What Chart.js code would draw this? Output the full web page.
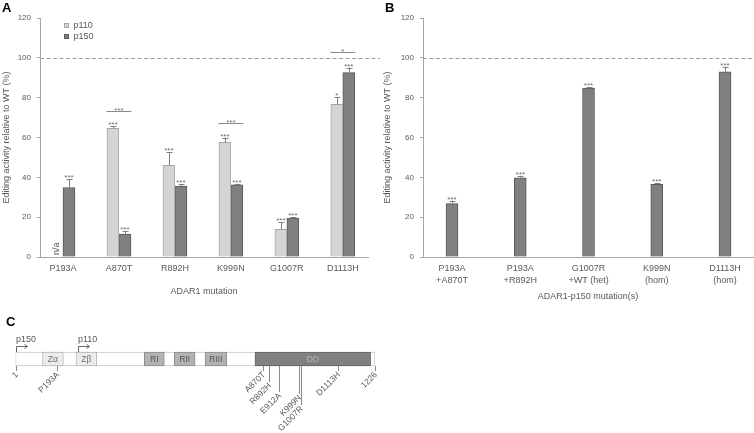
<!DOCTYPE html>
<html>
<head>
<meta charset="utf-8">
<script src="https://cdn.jsdelivr.net/npm/chart.js@4.4.0/dist/chart.umd.min.js"></script>
<style>
  body { margin: 0; background: #fff; }
  #fig { position: relative; width: 754px; height: 433px; overflow: hidden; font-family: 'Liberation Sans', Arial, sans-serif; }
  canvas { position: absolute; }
  .pl { position: absolute; font-weight: bold; font-size: 13px; line-height: 13px; color: #000; }
</style>
</head>
<body>
<div id="fig">
  <canvas id="cA" width="380" height="300" style="left:0;top:0"></canvas>
  <canvas id="cB" width="374" height="305" style="left:380px;top:0"></canvas>
  <canvas id="cC" width="380" height="105" style="left:0;top:328px"></canvas>
  <div class="pl" style="left:2px;top:1px">A</div>
  <div class="pl" style="left:385px;top:1px">B</div>
  <div class="pl" style="left:6px;top:315px">C</div>
</div>
<script>
// ---- panel A: p110 / p150 single mutants
const catsA = ['P193A', 'A870T', 'R892H', 'K999N', 'G1007R', 'D1113H'];
const p110 = [null, 64.6, 46, 57.6, 13.9, 76.7];
const p110Err = [0, 1, 6.6, 2.4, 3.5, 3.7];
const p110Sig = ['', '***', '***', '***', '***', '*'];
const p150 = [34.8, 11.5, 35.6, 36.2, 19.6, 92.6];
const p150Err = [4.2, 1.7, 1.1, 0.6, 0.4, 2.5];
const p150Sig = ['***', '***', '***', '***', '***', '***'];
// p110 vs p150 comparisons
const cmpCats = [1, 3, 5];
const cmpLevel = [73.4, 67.5, 103];
const cmpSig = ['***', '***', '*'];

// ---- panel B: p150 combinations
const catsB = [['P193A', '+A870T'], ['P193A', '+R892H'], ['G1007R', '+WT (het)'], ['K999N', '(hom)'], ['D1113H', '(hom)']];
const valsB = [26.8, 39.8, 84.8, 36.5, 93];
const errB = [1.5, 1, 0.4, 0.7, 2.5];
const sigB = ['***', '***', '***', '***', '***'];

// ---- panel C: ADAR1 domain map
const protLen = 1226;
const domainNames = ['Z\u03b1', 'Z\u03b2', 'RI', 'RII', 'RIII', 'DD'];
const domainStart = [93, 207, 440, 542, 647, 817];
const domainEnd = [164, 278, 508, 613, 721, 1211];
const domainKind = ['z', 'z', 'r', 'r', 'r', 'dd'];
const mutNames = ['P193A', 'A870T', 'R892H', 'E912A', 'K999N', 'G1007R', 'D1113H'];
const mutPos = [143, 845, 866, 900, 968, 974, 1099];
const isoNames = ['p150', 'p110'];
const isoStart = [1, 215];

const FONT = "'Liberation Sans', Arial, sans-serif";
const TXT = '#595959';
const AXIS = '#a6a6a6';
const LIGHT = '#d4d4d4', LIGHT_B = '#a6a6a6';
const DARK = '#808080', DARK_B = '#595959';
const mutDrop = [5, 5, 16, 26, 28, 39, 5];
const yTitle = 'Editing activity relative to WT (%)';

Chart.defaults.font.family = FONT;
Chart.defaults.color = TXT;

const barExtras = {
  id: 'barExtras',
  afterDatasetsDraw(chart, args, opts) {
    const { ctx, chartArea, scales: { x, y } } = chart;
    ctx.save();
    // 100% WT reference
    const yr = Math.round(y.getPixelForValue(100)) + 0.5;
    ctx.strokeStyle = '#9a9a9a';
    ctx.lineWidth = 1;
    ctx.setLineDash([4, 2.5]);
    ctx.beginPath();
    ctx.moveTo(chartArea.left, yr);
    ctx.lineTo(chart.width, yr);
    ctx.stroke();
    ctx.setLineDash([]);

    ctx.font = '8px ' + FONT;
    ctx.textAlign = 'center';
    ctx.textBaseline = 'alphabetic';
    chart.data.datasets.forEach((ds, di) => {
      const meta = chart.getDatasetMeta(di);
      meta.data.forEach((bar, i) => {
        const v = opts.values[di][i];
        if (v == null) return;
        const top = y.getPixelForValue(v + opts.errors[di][i]);
        const bx = Math.round(bar.x) + 0.5;
        ctx.strokeStyle = '#7f7f7f';
        ctx.beginPath();
        ctx.moveTo(bx, bar.y);
        ctx.lineTo(bx, top);
        ctx.moveTo(bx - 3, Math.round(top) + 0.5);
        ctx.lineTo(bx + 3, Math.round(top) + 0.5);
        ctx.stroke();
        ctx.fillStyle = '#6e6e6e';
        ctx.fillText(opts.stars[di][i], bar.x, top + 1);
      });
    });

    (opts.brackets || []).forEach(b => {
      const cx = x.getPixelForValue(b.cat);
      const by = Math.round(y.getPixelForValue(b.level)) + 0.5;
      ctx.strokeStyle = '#8a8a8a';
      ctx.beginPath();
      ctx.moveTo(cx - 12.5, by);
      ctx.lineTo(cx + 12.5, by);
      ctx.stroke();
      ctx.fillStyle = '#6e6e6e';
      ctx.fillText(b.text, cx, by + 1);
    });

    if (opts.na) {
      ctx.save();
      ctx.translate(x.getPixelForValue(opts.na.cat) - 6, y.getPixelForValue(0) - 2);
      ctx.rotate(-Math.PI / 2);
      ctx.font = '9px ' + FONT;
      ctx.fillStyle = TXT;
      ctx.textAlign = 'left';
      ctx.textBaseline = 'middle';
      ctx.fillText('n/a', 0, 0);
      ctx.restore();
    }

    if (opts.legend) {
      ctx.font = '9px ' + FONT;
      ctx.textAlign = 'left';
      ctx.textBaseline = 'middle';
      chart.data.datasets.forEach((ds, di) => {
        const lx = chartArea.left + 24.5, ly = chartArea.top + 5.5 + di * 11;
        ctx.fillStyle = ds.backgroundColor;
        ctx.strokeStyle = ds.borderColor;
        ctx.fillRect(lx, ly, 4, 4);
        ctx.strokeRect(lx, ly, 4, 4);
        ctx.fillStyle = TXT;
        ctx.fillText(ds.label, lx + 9, ly + 2.5);
      });
    }
    ctx.restore();
  }
};

function barOptions(cats, xMin, xMax, yWidth, xHeight, padRight, titleX, titlePadB, ytPad) {
  return {
    responsive: false,
    animation: false,
    devicePixelRatio: 1,
    layout: { padding: { left: 0, right: padRight, top: 18, bottom: 0 } },
    datasets: { bar: { barThickness: 12, borderWidth: 1 } },
    scales: {
      x: {
        type: 'linear', min: xMin, max: xMax, bounds: 'data', offset: false,
        afterBuildTicks: s => { s.ticks = cats.map((c, i) => ({ value: i })); },
        afterFit: s => { s.height = xHeight; },
        grid: { display: false, offset: false, tickLength: 0 },
        border: { color: AXIS },
        ticks: {
          autoSkip: false, maxRotation: 0, minRotation: 0, padding: 6,
          font: { size: 9, lineHeight: 1.333 }, color: TXT,
          callback: v => (Number.isInteger(v) && cats[v] !== undefined ? cats[v] : '')
        },
        title: { display: true, text: titleX, font: { size: 9 }, color: TXT, padding: { top: 0, bottom: titlePadB } }
      },
      y: {
        min: 0, max: 120,
        afterFit: s => { s.width = yWidth; },
        grid: { drawOnChartArea: false, drawTicks: true, tickLength: 3, color: AXIS },
        border: { color: AXIS },
        ticks: { stepSize: 20, padding: 6, font: { size: 8 }, color: TXT },
        title: { display: true, text: yTitle, font: { size: 9 }, color: TXT, padding: { top: ytPad, bottom: 0 } }
      }
    },
    plugins: { legend: { display: false }, tooltip: { enabled: false } }
  };
}

const optsA = barOptions(catsA, -0.41, 5.45, 40, 43, 12, 'ADAR1 mutation', 2.6, 1.3);
optsA.plugins.barExtras = {
  values: [p110, p150], errors: [p110Err, p150Err], stars: [p110Sig, p150Sig],
  brackets: cmpCats.map((c, i) => ({ cat: c, level: cmpLevel[i], text: cmpSig[i] })),
  na: { cat: 0 }, legend: true
};
new Chart(document.getElementById('cA'), {
  type: 'bar',
  data: {
    datasets: [
      { label: 'p110', data: p110.map((v, i) => ({ x: i, y: v })), backgroundColor: LIGHT, borderColor: LIGHT_B },
      { label: 'p150', data: p150.map((v, i) => ({ x: i, y: v })), backgroundColor: DARK, borderColor: DARK_B }
    ]
  },
  options: optsA,
  plugins: [barExtras]
});

const optsB = barOptions(catsB, -0.425, 4.41, 43, 48, 1, 'ADAR1-p150 mutation(s)', 3, 2.6);
optsB.plugins.barExtras = { values: [valsB], errors: [errB], stars: [sigB] };
new Chart(document.getElementById('cB'), {
  type: 'bar',
  data: {
    datasets: [
      { label: 'p150', data: valsB.map((v, i) => ({ x: i, y: v })), backgroundColor: DARK, borderColor: DARK_B }
    ]
  },
  options: optsB,
  plugins: [barExtras]
});

// ---- panel C
const domFill = { z: '#ececec', r: '#b3b3b3', dd: '#808080' };
const domLine = { z: '#b5b5b5', r: '#8c8c8c', dd: '#626262' };
const domText = { z: '#707070', r: '#555', dd: '#b8b8b8' };

const protExtras = {
  id: 'protExtras',
  afterDatasetsDraw(chart) {
    const { ctx, scales: { x, y } } = chart;
    const yMid = y.getPixelForValue(0);
    const barTop = Math.round(yMid - 7), barBot = Math.round(yMid + 7);
    ctx.save();
    // domain names
    ctx.font = '8.5px ' + FONT;
    ctx.textAlign = 'center';
    ctx.textBaseline = 'middle';
    chart.getDatasetMeta(1).data.forEach((el, i) => {
      const p = el.getProps(['x', 'base'], true);
      ctx.fillStyle = domText[domainKind[i]];
      ctx.fillText(domainNames[i], (p.x + p.base) / 2, yMid + 0.5);
    });
    // position ticks below the bar
    ctx.strokeStyle = '#8a8a8a';
    ctx.lineWidth = 1;
    const labels = ['1'].concat(mutNames, [String(protLen)]);
    const pos = [1].concat(mutPos, [protLen]);
    const drops = [5].concat(mutDrop, [5]);
    labels.forEach((name, i) => {
      const px = Math.round(x.getPixelForValue(pos[i])) + 0.5;
      const yEnd = barBot + drops[i];
      ctx.beginPath();
      ctx.moveTo(px, barBot);
      ctx.lineTo(px, yEnd);
      ctx.stroke();
      ctx.save();
      ctx.translate(px + 0.5, yEnd + 2.5);
      ctx.rotate(-Math.PI / 4);
      ctx.fillStyle = TXT;
      ctx.textAlign = 'right';
      ctx.textBaseline = 'middle';
      ctx.fillText(name, 0, 0);
      ctx.restore();
    });
    // isoform start arrows
    ctx.strokeStyle = '#666';
    ctx.font = '9px ' + FONT;
    ctx.textAlign = 'left';
    ctx.textBaseline = 'alphabetic';
    isoNames.forEach((name, i) => {
      const px = Math.round(x.getPixelForValue(isoStart[i])) + 0.5;
      const ay = barTop - 5.5;
      ctx.beginPath();
      ctx.moveTo(px, barTop);
      ctx.lineTo(px, ay);
      ctx.lineTo(px + 11, ay);
      ctx.moveTo(px + 8, ay - 2);
      ctx.lineTo(px + 11, ay);
      ctx.lineTo(px + 8, ay + 2);
      ctx.stroke();
      ctx.fillStyle = TXT;
      ctx.fillText(name, px - 0.5, barTop - 10);
    });
    ctx.restore();
  }
};

new Chart(document.getElementById('cC'), {
  type: 'bar',
  data: {
    labels: ['ADAR1'],
    datasets: [
      { label: 'ADAR1', data: [{ x: [1, protLen], y: 'ADAR1' }], backgroundColor: '#fff', borderColor: '#c8c8c8', order: 2 },
      {
        label: 'domains',
        data: domainNames.map((n, i) => ({ x: [domainStart[i], domainEnd[i]], y: 'ADAR1' })),
        backgroundColor: domainKind.map(k => domFill[k]),
        borderColor: domainKind.map(k => domLine[k]),
        order: 1
      }
    ]
  },
  options: {
    indexAxis: 'y',
    responsive: false,
    animation: false,
    devicePixelRatio: 1,
    layout: { padding: { left: 15.5, right: 5, top: 17, bottom: 60 } },
    datasets: { bar: { barThickness: 14, maxBarThickness: 14, grouped: false, borderWidth: 1, borderSkipped: false } },
    scales: {
      x: { type: 'linear', display: false, min: 1, max: protLen },
      y: { type: 'category', display: false }
    },
    plugins: { legend: { display: false }, tooltip: { enabled: false } }
  },
  plugins: [protExtras]
});
</script>
</body>
</html>
